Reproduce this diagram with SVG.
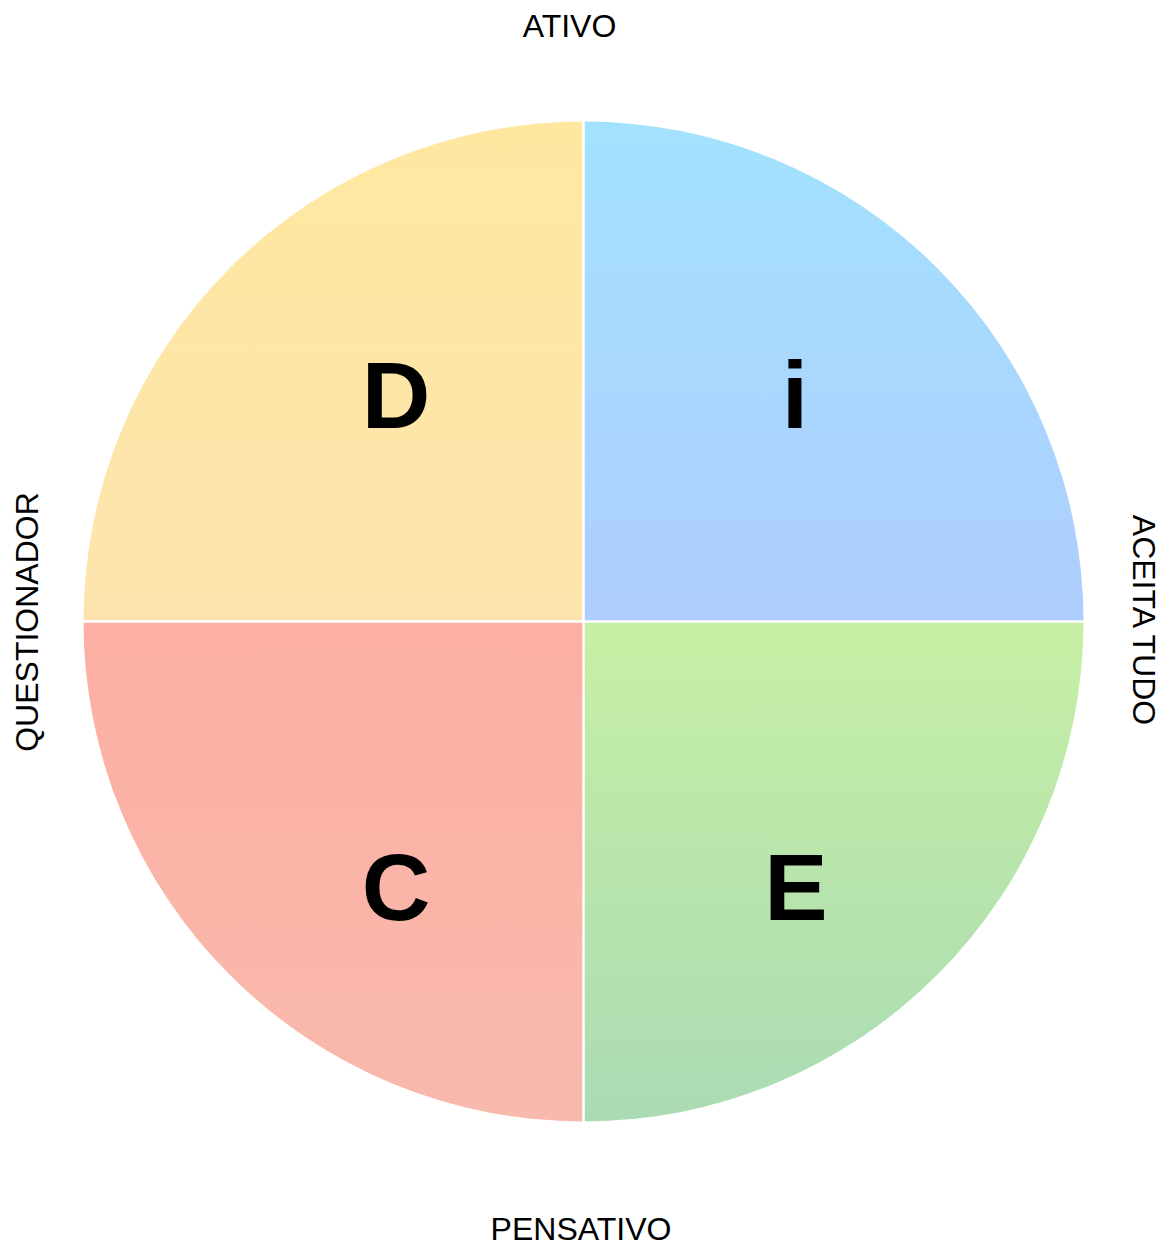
<svg xmlns="http://www.w3.org/2000/svg" width="1166" height="1247" viewBox="0 0 1166 1247">
<defs>
<linearGradient id="gD" x1="0" y1="0" x2="0" y2="1"><stop offset="0" stop-color="#FEE8A0"/><stop offset="1" stop-color="#FDE4AE"/></linearGradient>
<linearGradient id="gI" x1="0" y1="0" x2="0" y2="1"><stop offset="0" stop-color="#A3E2FE"/><stop offset="1" stop-color="#AECDFE"/></linearGradient>
<linearGradient id="gC" x1="0" y1="0" x2="0" y2="1"><stop offset="0" stop-color="#FCAFA2"/><stop offset="1" stop-color="#F9B9AE"/></linearGradient>
<linearGradient id="gE" x1="0" y1="0" x2="0" y2="1"><stop offset="0" stop-color="#C7EFA4"/><stop offset="1" stop-color="#AADBB4"/></linearGradient>
<style>
.big{font-family:"Liberation Sans",Arial,sans-serif;font-weight:bold;font-size:95px;fill:#000;text-anchor:middle}
.lbl{font-family:"Liberation Sans",Arial,sans-serif;font-size:32px;fill:#000;text-anchor:middle}
.sep{stroke:#fff;stroke-width:2.5}
</style>
</defs>
<rect width="1166" height="1247" fill="#fff"/>
<g id="quadrant-D">
<path d="M583.5,621.5 L83.5,621.5 A500,500 0 0 1 583.5,121.5 Z" fill="url(#gD)"/>
<text class="big" x="396" y="428">D</text>
</g>
<g id="quadrant-i">
<path d="M583.5,621.5 L583.5,121.5 A500,500 0 0 1 1083.5,621.5 Z" fill="url(#gI)"/>
<text class="big" x="795" y="428">i</text>
</g>
<g id="quadrant-C">
<path d="M583.5,621.5 L583.5,1121.5 A500,500 0 0 1 83.5,621.5 Z" fill="url(#gC)"/>
<text class="big" x="396" y="920">C</text>
</g>
<g id="quadrant-E">
<path d="M583.5,621.5 L1083.5,621.5 A500,500 0 0 1 583.5,1121.5 Z" fill="url(#gE)"/>
<text class="big" x="796" y="920">E</text>
</g>
<g id="separators">
<line class="sep" x1="583.5" y1="115" x2="583.5" y2="1128"/>
<line class="sep" x1="78" y1="621.5" x2="1089" y2="621.5"/>
</g>
<g id="axis-labels">
<text class="lbl" x="569.5" y="37">ATIVO</text>
<text class="lbl" x="581" y="1240">PENSATIVO</text>
<text class="lbl" transform="translate(38,622) rotate(-90)">QUESTIONADOR</text>
<text class="lbl" transform="translate(1133,620) rotate(90)">ACEITA TUDO</text>
</g>
</svg>
